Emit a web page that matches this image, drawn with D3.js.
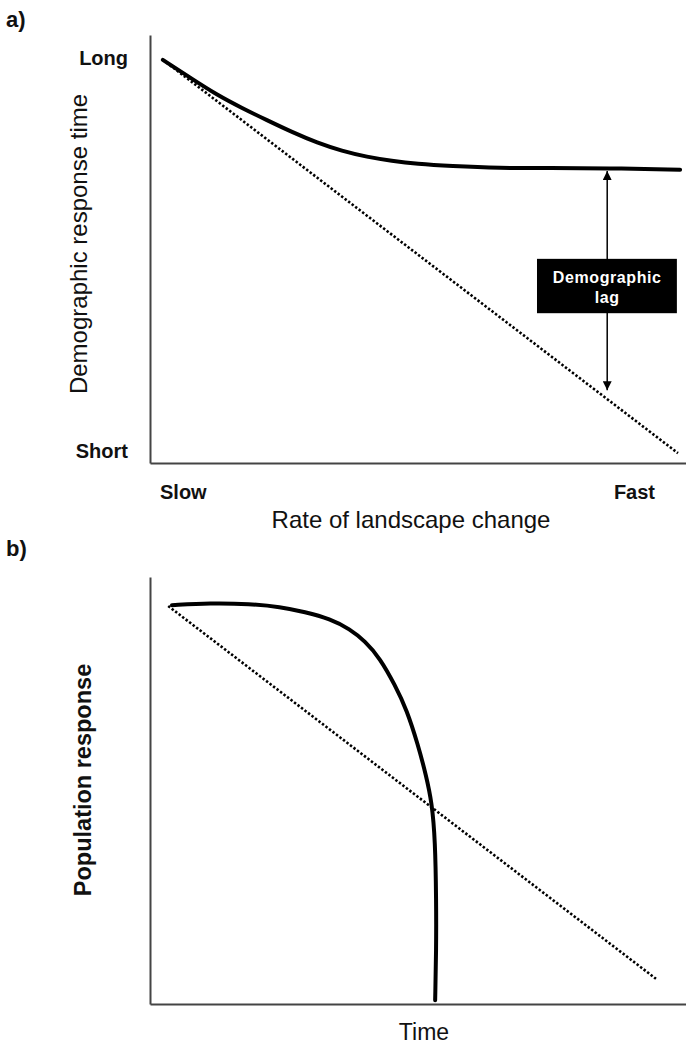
<!DOCTYPE html>
<html>
<head>
<meta charset="utf-8">
<script src="https://cdn.jsdelivr.net/npm/d3@7"></script>
<style>
	body { margin: 0; background: #fff; }
	svg { display: block; }
	text { font-family: Arial, "Liberation Sans", sans-serif; fill: #111; }
</style>
</head>
<body>
<div id="chart"></div>
<script>
// panel a: demographic response time vs rate of landscape change (0-100 units)
var lag_curve_x = [2.4, 7.5, 12.5, 17.2, 21.8, 26.5, 31.2, 35.8, 40.5, 45.1, 49.8, 56.0, 65.3, 74.6, 85.3, 98.9];
var lag_curve_y = [94.2, 90.0, 86.0, 82.9, 80.1, 77.3, 74.8, 72.9, 71.5, 70.6, 69.9, 69.4, 68.9, 68.9, 68.9, 68.5];
var lag_diag_x = [2.4, 98.5];
var lag_diag_y = [94.2, 2.3];
var lag_arrow = {x: 85.3, top: 68.2, bottom: 17.0};
var a_y_ticks = ['Long', 'Short'];
var a_x_ticks = ['Slow', 'Fast'];

// panel b: population response vs time
var pop_curve_x = [4.1, 11.2, 18.7, 24.3, 28.9, 33.6, 37.3, 40.1, 42.9, 45.7, 47.9, 50.0, 51.5, 52.6, 53.2, 53.4, 53.4, 53.2];
var pop_curve_y = [93.4, 93.9, 93.7, 93.0, 91.8, 90.2, 87.8, 85.0, 81.0, 74.7, 68.9, 60.7, 53.6, 47.1, 38.4, 24.4, 12.6, 0.9];
var pop_diag_x = [3.4, 94.4];
var pop_diag_y = [93.2, 5.9];

var zip = (xs, ys) => xs.map((x, i) => [x, ys[i]]);

var svg = d3.select('#chart')
	.append('svg')
	.attr('width', 686)
	.attr('height', 1046);

var x = d3.scaleLinear().domain([0, 100]).range([150, 686]);
var ya = d3.scaleLinear().domain([0, 100]).range([463, 35]);
var yb = d3.scaleLinear().domain([0, 100]).range([1004, 577]);

/**
 * Draws a bare L-shaped axis pair
 */
function draw_axes(y) {
	svg.append('g')
		.attr('class', 'axis')
		.attr('transform', 'translate(0,' + y.range()[0] + ')')
		.call(d3.axisBottom(x).tickValues([]).tickSizeOuter(0));
	svg.append('g')
		.attr('class', 'axis')
		.attr('transform', 'translate(' + x.range()[0] + ',0)')
		.call(d3.axisLeft(y).tickValues([]).tickSizeOuter(0));
}

draw_axes(ya);
draw_axes(yb);
svg.selectAll('.axis path')
	.attr('stroke', '#444')
	.attr('stroke-width', 2);

function draw_lines(y, curve, diag) {
	var line = d3.line()
		.x(d => x(d[0]))
		.y(d => y(d[1]))
		.curve(d3.curveBasis);

	svg.append('path')
		.datum(diag)
		.attr('d', line)
		.attr('fill', 'none')
		.attr('stroke', '#000')
		.attr('stroke-width', 2.6)
		.attr('stroke-dasharray', '2.4,2');

	svg.append('path')
		.datum(curve)
		.attr('d', line)
		.attr('fill', 'none')
		.attr('stroke', '#000')
		.attr('stroke-width', 4)
		.attr('stroke-linecap', 'round');
}

draw_lines(ya, zip(lag_curve_x, lag_curve_y), zip(lag_diag_x, lag_diag_y));
draw_lines(yb, zip(pop_curve_x, pop_curve_y), zip(pop_diag_x, pop_diag_y));

// demographic lag arrow
svg.append('defs').append('marker')
	.attr('id', 'head')
	.attr('viewBox', '0 0 10 10')
	.attr('refX', 10)
	.attr('refY', 5)
	.attr('markerWidth', 9)
	.attr('markerHeight', 9)
	.attr('markerUnits', 'userSpaceOnUse')
	.attr('orient', 'auto-start-reverse')
	.append('path')
	.attr('d', 'M0,0 L10,5 L0,10 Z')
	.attr('fill', '#000');

svg.append('line')
	.attr('x1', x(lag_arrow.x))
	.attr('x2', x(lag_arrow.x))
	.attr('y1', ya(lag_arrow.top))
	.attr('y2', ya(lag_arrow.bottom))
	.attr('stroke', '#000')
	.attr('stroke-width', 1.5)
	.attr('marker-start', 'url(#head)')
	.attr('marker-end', 'url(#head)');

svg.append('rect')
	.attr('x', x(72.2))
	.attr('y', ya(47.7))
	.attr('width', x(98.3) - x(72.2))
	.attr('height', ya(35.0) - ya(47.7))
	.attr('fill', '#000');

svg.append('text')
	.attr('text-anchor', 'middle')
	.attr('x', x(85.3))
	.attr('y', ya(42.1))
	.style('fill', '#fff')
	.style('font-weight', 'bold')
	.style('font-size', '16px')
	.style('letter-spacing', '0.6px')
	.selectAll('tspan')
	.data(['Demographic', 'lag'])
	.enter()
	.append('tspan')
		.attr('x', x(85.3))
		.attr('dy', (d, i) => i === 0 ? 0 : 20)
		.style('fill', '#fff')
		.text(d => d);

// panel letters
svg.append('text').attr('x', 6).attr('y', 27).text('a)')
	.style('font-weight', 'bold').style('font-size', '22px');
svg.append('text').attr('x', 6).attr('y', 556).text('b)')
	.style('font-weight', 'bold').style('font-size', '22px');

// end labels of panel a
svg.selectAll('.ylab')
	.data(a_y_ticks)
	.enter()
	.append('text')
		.attr('text-anchor', 'end')
		.attr('x', 128)
		.attr('y', (d, i) => i === 0 ? 65 : 458)
		.text(d => d)
		.style('font-weight', 'bold')
		.style('font-size', '20px');
svg.selectAll('.xlab')
	.data(a_x_ticks)
	.enter()
	.append('text')
		.attr('text-anchor', (d, i) => i === 0 ? 'start' : 'end')
		.attr('x', (d, i) => i === 0 ? 160 : 655)
		.attr('y', 499)
		.text(d => d)
		.style('font-weight', 'bold')
		.style('font-size', '20px');

// axis titles
svg.append('text')
	.attr('text-anchor', 'middle')
	.attr('x', 411)
	.attr('y', 528)
	.text('Rate of landscape change')
	.style('font-size', '24px');
svg.append('text')
	.attr('text-anchor', 'middle')
	.attr('transform', 'translate(87,244) rotate(-90)')
	.text('Demographic response time')
	.style('font-size', '24px');
svg.append('text')
	.attr('text-anchor', 'middle')
	.attr('x', 424)
	.attr('y', 1040)
	.text('Time')
	.style('font-size', '23px');
svg.append('text')
	.attr('text-anchor', 'middle')
	.attr('transform', 'translate(91,780) rotate(-90)')
	.text('Population response')
	.style('font-weight', 'bold')
	.style('font-size', '23.5px');
</script>
</body>
</html>
